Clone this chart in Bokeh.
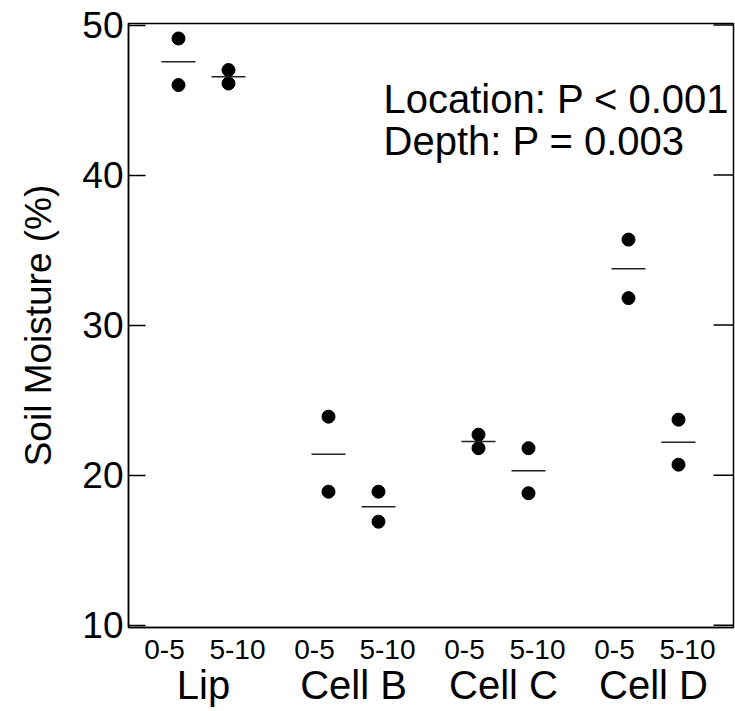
from bokeh.plotting import figure
from bokeh.models import LinearAxis, FixedTicker, Range1d, Label, ColumnDataSource
from bokeh.embed import file_html
from bokeh.resources import INLINE

# ---- data ----
groups = ["Lip", "Cell B", "Cell C", "Cell D"]
depths = ["0-5", "5-10"]
# two replicate measurements per (location, depth) pair, in group/depth order
rep_high = [49.1, 47.0, 23.9, 18.9, 22.7, 21.8, 35.7, 23.7]
rep_low = [46.0, 46.1, 18.9, 16.9, 21.8, 18.8, 31.8, 20.7]
y_ticks = [10, 20, 30, 40, 50]
stats_lines = ["Location: P < 0.001", "Depth: P = 0.003"]
y_label = "Soil Moisture (%)"

FONT = "Liberation Sans"
GROUP_SPACING = 3.0
FIRST_CENTER = 1.5
X_END = 12.1

centers = [FIRST_CENTER + GROUP_SPACING * gi for gi in range(len(groups))]
x_pos = []
for c in centers:
    for di in range(len(depths)):
        x_pos.append(c + (di - 0.5))
means = [(a + b) / 2 for a, b in zip(rep_high, rep_low)]

src = ColumnDataSource(dict(x=x_pos, hi=rep_high, lo=rep_low, mean=means))

p = figure(width=735, height=711, output_backend="svg", toolbar_location=None,
           x_range=Range1d(0, X_END), y_range=Range1d(9.85, 50.1),
           x_axis_type=None, y_axis_type=None,
           min_border_left=128, min_border_right=2, min_border_top=23,
           min_border_bottom=84)
p.grid.visible = False
p.outline_line_color = "black"
p.outline_line_width = 1.5
p.background_fill_color = "white"
p.border_fill_color = "white"

# left axis
yax = LinearAxis(ticker=FixedTicker(ticks=y_ticks), axis_label=y_label)
yax.major_tick_in = 17
yax.major_tick_out = 0
yax.minor_tick_line_color = None
yax.major_tick_line_width = 1.5
yax.axis_line_width = 1.5
yax.major_label_text_font = FONT
yax.major_label_text_font_size = "37px"
yax.major_label_text_color = "black"
yax.major_label_standoff = 5
yax.axis_label_text_font = FONT
yax.axis_label_text_font_size = "37px"
yax.axis_label_text_font_style = "normal"
yax.axis_label_text_color = "black"
yax.axis_label_standoff = 20
p.add_layout(yax, "left")

# right-side inward ticks, drawn at the y tick values against the range end
p.segment(x0=[X_END - 0.4] * len(y_ticks), y0=y_ticks, x1=[X_END] * len(y_ticks),
          y1=y_ticks, line_color="black", line_width=1.5)

# depth labels axis
depth_ticks = []
depth_over = {}
for c in centers:
    for di, d in enumerate(depths):
        t = round(c + (-0.78 if di == 0 else 0.68), 3)
        depth_ticks.append(t)
        depth_over[t] = d
dax = LinearAxis(ticker=FixedTicker(ticks=depth_ticks), major_label_overrides=depth_over)
dax.major_tick_in = 0
dax.major_tick_out = 0
dax.minor_tick_line_color = None
dax.axis_line_width = 1.5
dax.major_label_text_font = FONT
dax.major_label_text_font_size = "28px"
dax.major_label_text_color = "black"
dax.major_label_standoff = 12
p.add_layout(dax, "below")

# group labels axis
group_over = {round(c, 3): g for c, g in zip(centers, groups)}
gax = LinearAxis(ticker=FixedTicker(ticks=[round(c, 3) for c in centers]),
                 major_label_overrides=group_over)
gax.axis_line_color = None
gax.major_tick_line_color = None
gax.minor_tick_line_color = None
gax.major_label_text_font = FONT
gax.major_label_text_font_size = "40px"
gax.major_label_text_color = "black"
gax.major_label_standoff = -5
p.add_layout(gax, "below")

# marks
p.scatter("x", "hi", source=src, size=13, color="black")
p.scatter("x", "lo", source=src, size=13, color="black")
p.scatter("x", "mean", source=src, marker="dash", size=34, line_color="#222222",
          line_width=1.5)

# statistics text
for txt, yy in zip(stats_lines, [45.1, 42.25]):
    p.add_layout(Label(x=5.1, y=yy, text=txt, text_font=FONT, text_font_size="40px",
                       text_color="black", text_baseline="alphabetic", text_align="left"))

open("out.html", "w").write(file_html(p, INLINE))
